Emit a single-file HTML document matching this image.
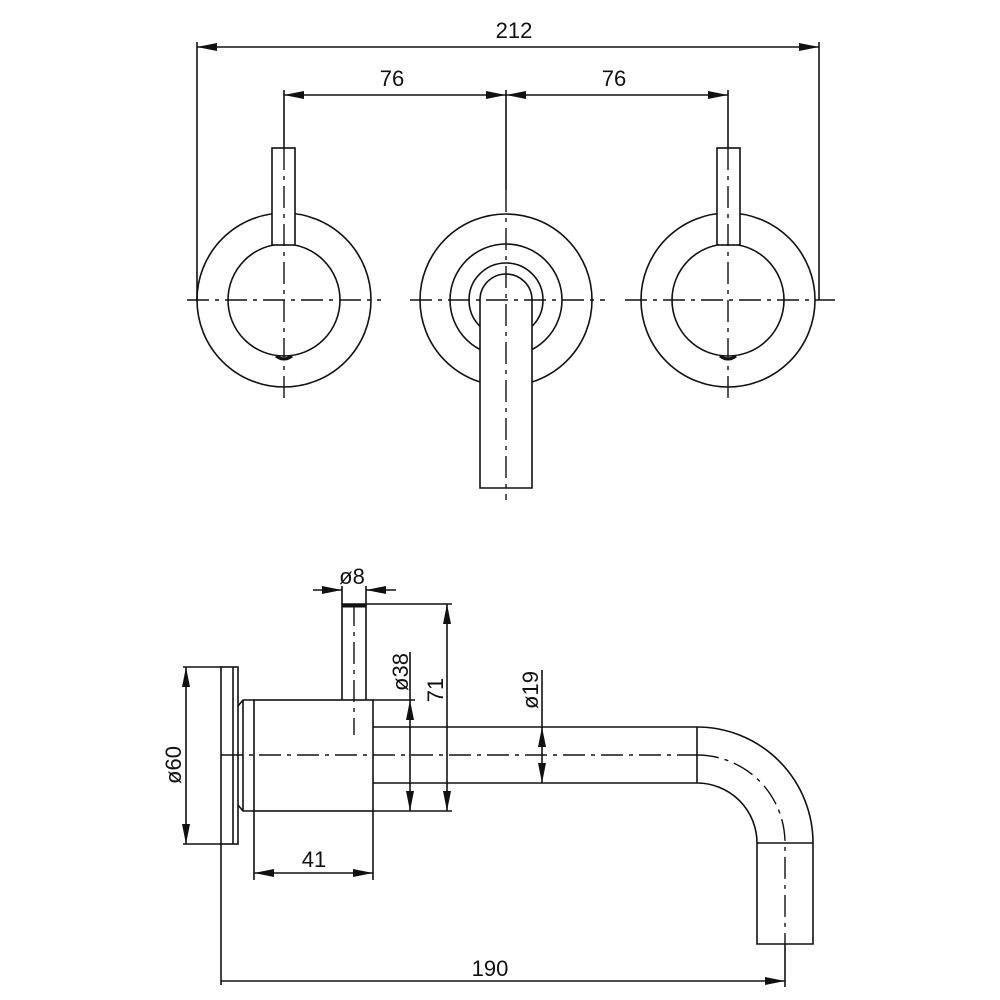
<!DOCTYPE html>
<html><head><meta charset="utf-8"><style>
html,body{margin:0;padding:0;background:#fff}
svg{display:block}
text{font-family:"Liberation Sans",sans-serif;font-size:22px;fill:#111}
</style></head><body>
<svg width="1000" height="1000" viewBox="0 0 1000 1000" xmlns="http://www.w3.org/2000/svg">
<defs>
<marker id="a" viewBox="0 0 20 8" refX="20" refY="4" markerWidth="20" markerHeight="8" markerUnits="userSpaceOnUse" orient="auto-start-reverse"><path d="M0,0 L20,4 L0,8 Z" fill="#111"/></marker>
</defs>
<g fill="none" stroke="#111" stroke-width="1.6">
<!-- top dimensions -->
<line x1="197" y1="47" x2="819" y2="47" marker-start="url(#a)" marker-end="url(#a)"/>
<line x1="197" y1="42" x2="197" y2="300"/>
<line x1="819" y1="42" x2="819" y2="300"/>
<line x1="284" y1="95" x2="506" y2="95" marker-start="url(#a)" marker-end="url(#a)"/>
<line x1="506" y1="95" x2="728" y2="95" marker-start="url(#a)" marker-end="url(#a)"/>
<line x1="284" y1="90" x2="284" y2="148"/>
<line x1="728" y1="90" x2="728" y2="148"/>
<line x1="506" y1="90" x2="506" y2="190"/>
<!-- left knob -->
<circle cx="284" cy="300" r="87"/>
<circle cx="284" cy="300" r="56"/>
<rect x="272" y="148" width="23" height="97" fill="#fff"/>
<path d="M276,356 Q284,362 292,356" stroke-width="3"/>
<!-- right knob -->
<circle cx="728" cy="300" r="87"/>
<circle cx="728" cy="300" r="56"/>
<rect x="717" y="148" width="23" height="97" fill="#fff"/>
<path d="M720,356 Q728,362 736,356" stroke-width="3"/>
<!-- center -->
<circle cx="506" cy="300" r="86"/>
<circle cx="506" cy="300" r="56"/>
<circle cx="506" cy="300" r="37"/>
<path d="M480,488 L480,300 A26,26 0 0 1 532,300 L532,488 Z" fill="#fff"/>
</g>
<!-- centerlines top -->
<g fill="none" stroke="#111" stroke-width="1.4" stroke-dasharray="22,6,4,6">
<line x1="187" y1="300" x2="381" y2="300"/>
<line x1="284" y1="148" x2="284" y2="402"/>
<line x1="410" y1="300" x2="605" y2="300"/>
<line x1="506" y1="190" x2="506" y2="500"/>
<line x1="625" y1="300" x2="835" y2="300"/>
<line x1="728" y1="148" x2="728" y2="402"/>
</g>
<text x="514" y="38" text-anchor="middle">212</text>
<text x="392" y="86" text-anchor="middle">76</text>
<text x="614" y="86" text-anchor="middle">76</text>

<!-- bottom side view -->
<g fill="none" stroke="#111" stroke-width="1.6">
<rect x="221" y="667" width="17" height="177"/>
<line x1="233" y1="667" x2="233" y2="844"/>
<path d="M238,706 L243,700 L254,700 M238,805 L243,811 L254,811 M243,700 L243,811"/>
<rect x="254" y="700" width="119" height="111"/>
<path d="M342,700 L342,604 L366,604 L366,700"/>
<line x1="342" y1="606" x2="366" y2="606" stroke-width="3"/>
<path d="M373,727 L697,727 A116,116 0 0 1 813,843 L813,944 L757,944 L757,843 A60,60 0 0 0 697,783 L373,783"/>
<line x1="697" y1="727" x2="697" y2="783"/>
<line x1="757" y1="843" x2="813" y2="843"/>
<!-- dims -->
<line x1="186" y1="667" x2="186" y2="844" marker-start="url(#a)" marker-end="url(#a)"/>
<line x1="183" y1="667" x2="221" y2="667"/>
<line x1="183" y1="844" x2="221" y2="844"/>
<line x1="313" y1="590" x2="342" y2="590" marker-end="url(#a)"/>
<line x1="396" y1="590" x2="366" y2="590" marker-end="url(#a)"/>
<line x1="342" y1="586" x2="342" y2="604"/>
<line x1="366" y1="586" x2="366" y2="604"/>
<line x1="366" y1="604" x2="452" y2="604"/>
<line x1="447" y1="604" x2="447" y2="811" marker-start="url(#a)" marker-end="url(#a)"/>
<line x1="373" y1="700" x2="415" y2="700"/>
<line x1="373" y1="811" x2="452" y2="811"/>
<line x1="410" y1="700" x2="410" y2="811" marker-start="url(#a)" marker-end="url(#a)"/>
<line x1="410" y1="652" x2="410" y2="700"/>
<line x1="542" y1="727" x2="542" y2="783" marker-start="url(#a)" marker-end="url(#a)"/>
<line x1="542" y1="670" x2="542" y2="727"/>
<line x1="254" y1="873" x2="373" y2="873" marker-start="url(#a)" marker-end="url(#a)"/>
<line x1="254" y1="811" x2="254" y2="880"/>
<line x1="373" y1="811" x2="373" y2="880"/>
<line x1="221" y1="981" x2="785" y2="981" marker-end="url(#a)"/>
<line x1="221" y1="844" x2="221" y2="985"/>
<line x1="785" y1="944" x2="785" y2="987"/>
</g>
<g fill="none" stroke="#111" stroke-width="1.4" stroke-dasharray="22,6,4,6">
<line x1="221" y1="755" x2="697" y2="755"/>
<path d="M697,755 A88,88 0 0 1 785,843 L785,944"/>
<line x1="354" y1="604" x2="354" y2="735"/>
</g>
<text x="352" y="584" text-anchor="middle">ø8</text>
<text transform="translate(408,672) rotate(-90)" text-anchor="middle">ø38</text>
<text transform="translate(443,690) rotate(-90)" text-anchor="middle">71</text>
<text transform="translate(181,765) rotate(-90)" text-anchor="middle">ø60</text>
<text transform="translate(538,690) rotate(-90)" text-anchor="middle">ø19</text>
<text x="314" y="867" text-anchor="middle">41</text>
<text x="490" y="976" text-anchor="middle">190</text>
</svg>
</body></html>
